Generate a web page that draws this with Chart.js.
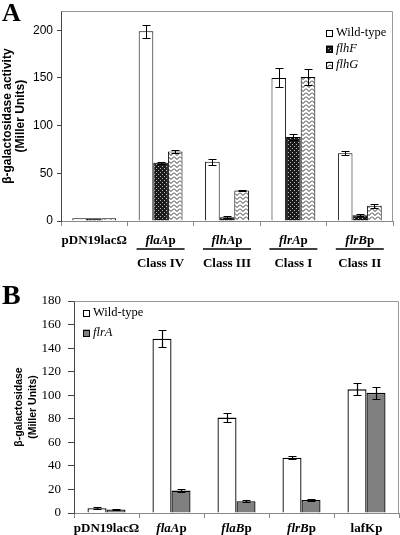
<!DOCTYPE html>
<html><head><meta charset="utf-8">
<script src="https://cdn.jsdelivr.net/npm/chart.js@4.4.0/dist/chart.umd.min.js"></script>
<style>
html,body{margin:0;padding:0;background:#fff;}
#wrap{position:relative;width:400px;height:535px;overflow:hidden;}
.box{position:absolute;left:0;}
.letter{position:absolute;font-family:"Liberation Serif";font-weight:bold;line-height:1;color:#000;}
</style></head><body>
<div id="wrap">
<div class="box" style="top:0;width:400px;height:270px"><canvas id="ca" width="400" height="270"></canvas></div>
<div class="box" style="top:270px;width:400px;height:265px"><canvas id="cb" width="400" height="265"></canvas></div>
<div class="letter" style="left:2px;top:0px;font-size:26px">A</div>
<div class="letter" style="left:2px;top:281px;font-size:28px">B</div>
</div>
<script>
// ---------- Panel A data ----------
const catsA = ['pDN19lacΩ', 'flaAp', 'flhAp', 'flrAp', 'flrBp'];
const italicA = ['', 'flaA', 'flhA', 'flrA', 'flrB'];
const plainA = ['pDN19lacΩ', 'p', 'p', 'p', 'p'];
const classA = ['', 'Class IV', 'Class III', 'Class I', 'Class II'];
const wildA = [3, 199, 62, 150, 71];
const wildErrA = [0, 7, 3.5, 10, 2];
const flhF = [3, 61, 4, 88, 6];
const flhFErr = [0, 1, 0.8, 3, 1];
const flhG = [3, 73, 32, 151, 16];
const flhGErr = [0, 1.5, 1, 8, 2];
const yTicksA = [0, 50, 100, 150, 200];

// ---------- Panel B data ----------
const catsB = ['pDN19lacΩ', 'flaAp', 'flaBp', 'flrBp', 'lafKp'];
const italicB = ['', 'flaA', 'flaB', 'flrB', ''];
const plainB = ['pDN19lacΩ', 'p', 'p', 'p', 'lafKp'];
const wildB = [4, 148, 81, 47, 105];
const wildErrB = [1, 7, 4, 1.5, 5];
const flrA = [3, 19, 10, 11, 102];
const flrAErr = [0.8, 1.5, 1, 1, 5];
const yTicksB = [0, 20, 40, 60, 80, 100, 120, 140, 160, 180];

// ---------- patterns ----------
function makeDots() {
  const c = document.createElement('canvas'); c.width = 4; c.height = 4;
  const g = c.getContext('2d');
  g.fillStyle = '#1a1a1a'; g.fillRect(0, 0, 4, 4);
  g.fillStyle = '#bbbbbb'; g.fillRect(0, 0, 1, 1); g.fillRect(2, 2, 1, 1);
  return g.createPattern(c, 'repeat');
}
function makeZigzag() {
  const c = document.createElement('canvas'); c.width = 6; c.height = 4;
  const g = c.getContext('2d');
  g.fillStyle = '#fff'; g.fillRect(0, 0, 6, 4);
  g.strokeStyle = '#333'; g.lineWidth = 1;
  g.beginPath(); g.moveTo(0, 0.5); g.lineTo(3, 3.5); g.lineTo(6, 0.5); g.stroke();
  return g.createPattern(c, 'repeat');
}
const dotsPat = makeDots();
const zigPat = makeZigzag();

// ---------- plugins ----------
const errorBars = {
  id: 'errorBars',
  afterDatasetsDraw(chart, args, opts) {
    const ctx = chart.ctx, y = chart.scales.y;
    ctx.save();
    ctx.strokeStyle = '#000'; ctx.lineWidth = opts.lineWidth || 1;
    chart.data.datasets.forEach((ds, i) => {
      const meta = chart.getDatasetMeta(i);
      meta.data.forEach((bar, j) => {
        const e = ds.errors ? ds.errors[j] : 0;
        if (!e) return;
        const v = ds.data[j];
        const yt = Math.round(y.getPixelForValue(v + e)) + 0.5;
        const yb = Math.round(y.getPixelForValue(v - e)) + 0.5;
        const x = Math.round(bar.x) + 0.5, hw = opts.cap || 4;
        ctx.beginPath();
        ctx.moveTo(x, yt); ctx.lineTo(x, yb);
        ctx.moveTo(x - hw, yt); ctx.lineTo(x + hw, yt);
        ctx.moveTo(x - hw, yb); ctx.lineTo(x + hw, yb);
        ctx.stroke();
      });
    });
    ctx.restore();
  }
};

const frame = {
  id: 'frame',
  beforeDatasetsDraw(chart, args, opts) {
    const a = chart.chartArea, ctx = chart.ctx;
    ctx.save();
    ctx.strokeStyle = opts.color || '#999'; ctx.lineWidth = 1;
    ctx.beginPath();
    ctx.moveTo(Math.round(a.left) + 0.5, Math.round(a.top) + 0.5);
    ctx.lineTo(Math.round(a.right) - 0.5, Math.round(a.top) + 0.5);
    ctx.lineTo(Math.round(a.right) - 0.5, Math.round(a.bottom));
    ctx.stroke();
    ctx.restore();
  }
};

const xLabels = {
  id: 'xLabels',
  afterDraw(chart, args, opts) {
    const ctx = chart.ctx, x = chart.scales.x;
    ctx.save();
    ctx.fillStyle = '#000'; ctx.textBaseline = 'middle'; ctx.textAlign = 'left';
    const fs = opts.size || 13;
    const fItal = 'italic bold ' + fs + 'px "Liberation Serif"';
    const fBold = 'bold ' + fs + 'px "Liberation Serif"';
    opts.italic.forEach((it, i) => {
      const cx = x.getPixelForValue(i);
      ctx.font = fItal; const w1 = it ? ctx.measureText(it).width : 0;
      ctx.font = fBold; const w2 = ctx.measureText(opts.plain[i]).width;
      let sx = cx - (w1 + w2) / 2;
      if (it) { ctx.font = fItal; ctx.fillText(it, sx, opts.y); }
      ctx.font = fBold; ctx.fillText(opts.plain[i], sx + w1, opts.y);
      if (opts.classes && opts.classes[i]) {
        ctx.strokeStyle = '#000'; ctx.lineWidth = 1.5;
        ctx.beginPath(); ctx.moveTo(cx - 24, opts.lineY); ctx.lineTo(cx + 24, opts.lineY); ctx.stroke();
        ctx.textAlign = 'center';
        ctx.fillText(opts.classes[i], cx, opts.classY);
        ctx.textAlign = 'left';
      }
    });
    ctx.restore();
  }
};

const legendBox = {
  id: 'legendBox',
  afterDraw(chart, args, opts) {
    const ctx = chart.ctx;
    ctx.save();
    ctx.textBaseline = 'middle'; ctx.textAlign = 'left';
    chart.data.datasets.forEach((ds, i) => {
      const yy = opts.y + i * opts.gap;
      const bs = opts.box;
      ctx.fillStyle = ds.backgroundColor;
      ctx.fillRect(opts.x, yy - bs / 2, bs, bs);
      ctx.strokeStyle = '#000'; ctx.lineWidth = 1;
      ctx.strokeRect(opts.x + 0.5, Math.round(yy - bs / 2) + 0.5, bs - 1, bs - 1);
      ctx.fillStyle = '#000';
      ctx.font = (ds.italicLegend ? 'italic ' : '') + opts.size + 'px "Liberation Serif"';
      ctx.fillText(ds.label, opts.x + bs + 3, yy);
    });
    ctx.restore();
  }
};

Chart.register(errorBars, frame, xLabels, legendBox);

// ---------- Chart A ----------
new Chart(document.getElementById('ca'), {
  type: 'bar',
  data: {
    labels: catsA,
    datasets: [
      { label: 'Wild-type', data: wildA, errors: wildErrA, backgroundColor: '#ffffff', borderColor: '#000', borderWidth: 1 },
      { label: 'flhF', data: flhF, errors: flhFErr, backgroundColor: dotsPat, borderColor: '#000', borderWidth: 1, italicLegend: true },
      { label: 'flhG', data: flhG, errors: flhGErr, backgroundColor: zigPat, borderColor: '#000', borderWidth: 1, italicLegend: true }
    ]
  },
  options: {
    responsive: false, animation: false,
    layout: { padding: { top: 11, right: 7, left: 0, bottom: 0 } },
    datasets: { bar: { categoryPercentage: 0.66, barPercentage: 1 } },
    plugins: {
      legend: { display: false }, tooltip: { enabled: false },
      errorBars: { cap: 4, lineWidth: 1 },
      frame: { color: '#999' },
      xLabels: { italic: italicA, plain: plainA, classes: classA, y: 241, lineY: 249, classY: 264, size: 13 },
      legendBox: { x: 326, y: 33, gap: 16, box: 7, size: 12.5 }
    },
    scales: {
      x: {
        grid: { display: true, drawOnChartArea: false, drawTicks: true, tickLength: 5, color: '#888', offset: true },
        border: { display: true, color: '#888' },
        ticks: { display: false },
        afterFit(s) { s.height = 49; }
      },
      y: {
        min: 0, max: 220,
        afterBuildTicks(s) { s.ticks = yTicksA.map(v => ({ value: v })); },
        ticks: { font: { family: 'Liberation Sans', size: 12 }, color: '#000', padding: 4 },
        grid: { drawOnChartArea: false, tickLength: 4, color: '#444' },
        border: { color: '#444' },
        title: {
          display: true, text: ['β-galactosidase activity', '(Miller Units)'], color: '#000',
          font: { family: 'Liberation Sans', size: 12, weight: 'bold', lineHeight: 1.1 }, padding: { top: 1, bottom: 0 }
        },
        afterFit(s) { s.width = 61; }
      }
    }
  }
});

// ---------- Chart B ----------
new Chart(document.getElementById('cb'), {
  type: 'bar',
  data: {
    labels: catsB,
    datasets: [
      { label: 'Wild-type', data: wildB, errors: wildErrB, backgroundColor: '#ffffff', borderColor: '#000', borderWidth: 1.3 },
      { label: 'flrA', data: flrA, errors: flrAErr, backgroundColor: '#808080', borderColor: '#000', borderWidth: 1.3, italicLegend: true }
    ]
  },
  options: {
    responsive: false, animation: false,
    layout: { padding: { top: 31, right: 1, left: 0, bottom: 0 } },
    datasets: { bar: { categoryPercentage: 0.585, barPercentage: 1 } },
    plugins: {
      legend: { display: false }, tooltip: { enabled: false },
      errorBars: { cap: 4, lineWidth: 1.2 },
      frame: { color: '#999' },
      xLabels: { italic: italicB, plain: plainB, y: 259, size: 13 },
      legendBox: { x: 83, y: 43, gap: 20, box: 7, size: 12.5 }
    },
    scales: {
      x: {
        grid: { display: true, drawOnChartArea: false, drawTicks: true, tickLength: 5, color: '#888', offset: true },
        border: { display: true, color: '#888' },
        ticks: { display: false },
        afterFit(s) { s.height = 22; }
      },
      y: {
        min: 0, max: 180,
        afterBuildTicks(s) { s.ticks = yTicksB.map(v => ({ value: v })); },
        ticks: { font: { family: 'Liberation Serif', size: 13 }, color: '#000', padding: 7 },
        grid: { drawOnChartArea: false, tickLength: 6, color: '#444' },
        border: { color: '#444' },
        title: {
          display: true, text: ['β-galactosidase', '(Miller Units)'], color: '#000',
          font: { family: 'Liberation Sans', size: 10.5, weight: 'bold', lineHeight: 1.33 }, padding: { top: 12.5, bottom: 0 }
        },
        afterFit(s) { s.width = 74; }
      }
    }
  }
});
</script>
</body></html>
